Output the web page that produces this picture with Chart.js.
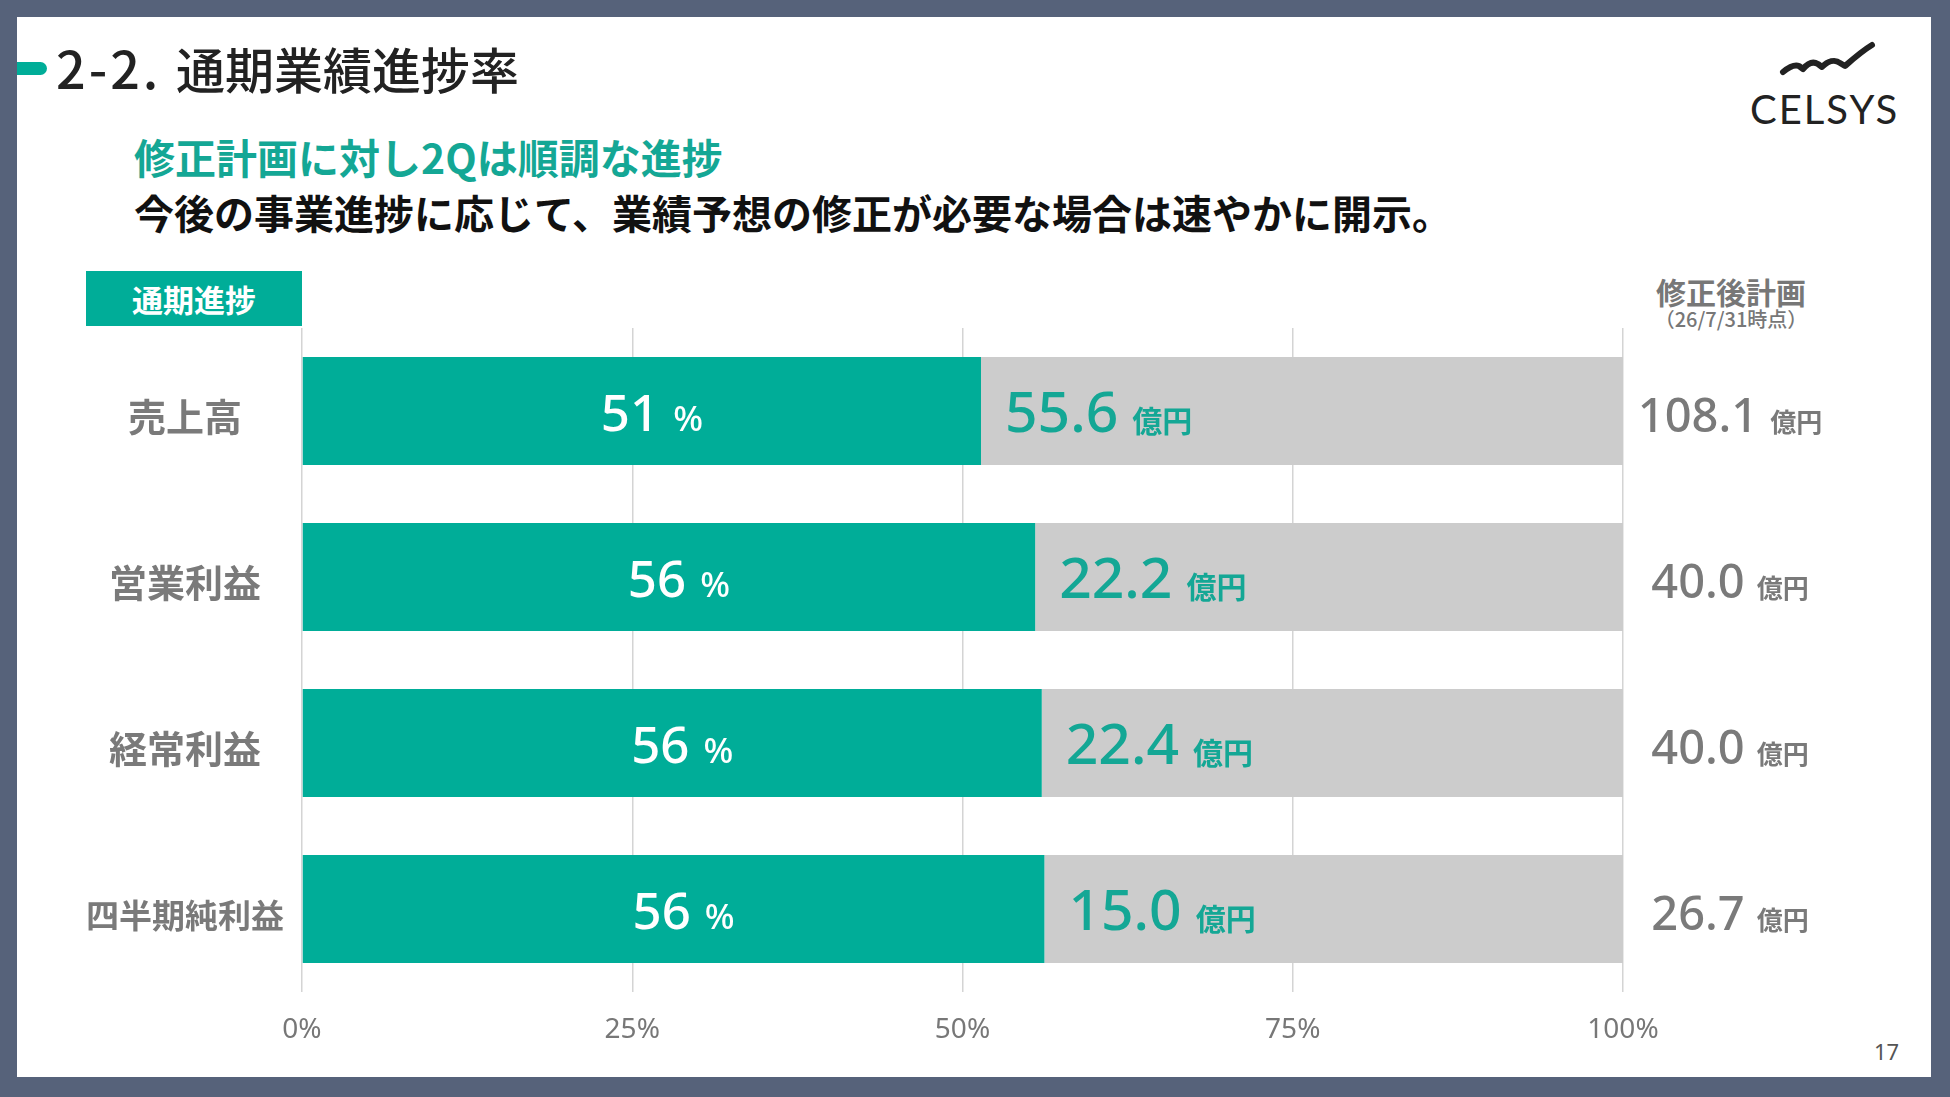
<!DOCTYPE html>
<html><head><meta charset="utf-8">
<script src="https://cdn.jsdelivr.net/npm/chart.js@4.4.1/dist/chart.umd.min.js"></script>
<style>
html,body{margin:0;padding:0;}
body{width:1950px;height:1097px;background:#56627a;position:relative;overflow:hidden;font-family:"Noto Sans CJK JP","Noto Sans",sans-serif;}
#panel{position:absolute;left:17px;top:17px;width:1914px;height:1060px;background:#fff;}
.abs{position:absolute;white-space:nowrap;}
#pill{left:17px;top:62px;width:30px;height:13px;background:#00ad98;border-radius:0 7px 7px 0;}
#title{left:56px;top:39px;font-size:49px;font-weight:500;color:#222;line-height:56px;}
#title .num{font-family:"Noto Sans CJK JP","Noto Sans",sans-serif;font-size:52px;letter-spacing:3px;font-weight:500;}
#sub1{left:134px;top:133px;font-size:41px;font-weight:700;color:#14a795;line-height:46px;}
#sub2{left:134px;top:189px;font-size:40px;font-weight:700;color:#111;line-height:46px;}
#tag{left:86px;top:271px;width:216px;height:55px;background:#00ad98;color:#fff;font-size:31px;font-weight:700;text-align:center;line-height:55px;}
#planh{left:1631px;width:200px;text-align:center;top:273px;font-size:30px;font-weight:700;color:#777;line-height:36px;}
#plans{left:1631px;width:200px;text-align:center;top:307px;font-size:20px;font-weight:500;color:#777;line-height:24px;}
#logo{left:1750px;top:84px;font-family:Lato,"Noto Sans",sans-serif;font-size:40px;letter-spacing:2px;color:#222;line-height:50px;}
#page{left:1874px;top:1036px;font-size:22px;color:#555;font-family:"Noto Sans",sans-serif;}
#chartbox{position:absolute;left:0;top:0;width:1950px;height:1097px;}
</style></head>
<body>
<div id="panel"></div>
<div class="abs" id="pill"></div>
<div class="abs" id="title"><span class="num">2-2. </span>通期業績進捗率</div>
<div class="abs" id="sub1">修正計画に対し2Qは順調な進捗</div>
<div class="abs" id="sub2">今後の事業進捗に応じて、業績予想の修正が必要な場合は速やかに開示。</div>
<div class="abs" id="tag">通期進捗</div>
<div class="abs" id="planh">修正後計画</div>
<div class="abs" id="plans">（26/7/31時点）</div>
<svg class="abs" style="left:0;top:0" width="1950" height="200"><path d="M1783,72 C1789,67 1794,64 1799,66 L1803,69 C1808,63 1813,61 1818,64 L1822,67 C1828,61 1835,59 1840,63 L1845,66 C1853,59 1862,51 1872,45" fill="none" stroke="#222" stroke-width="6" stroke-linecap="round" stroke-linejoin="round"/></svg>
<div class="abs" id="logo">CELSYS</div>
<div class="abs" id="page">17</div>
<div id="chartbox"><canvas id="c" width="1950" height="1097"></canvas></div>
<script>
const categories = ['売上高', '営業利益', '経常利益', '四半期純利益'];
const progressPct = [51.4, 55.5, 56.0, 56.2];
const progressLabels = ['51', '56', '56', '56'];
const actualOku = [55.6, 22.2, 22.4, 15.0];
const planOku = [108.1, 40.0, 40.0, 26.7];
const xTickValues = [0, 25, 50, 75, 100];
const remainderPct = progressPct.map(v => 100 - v);

const TEAL = '#00ad98';
const TEAL_TEXT = '#14a795';
const GRAY_TEXT = '#7a7a7a';
const NUMFONT = '"Noto Sans","Noto Sans CJK JP",sans-serif';
const JPFONT = '"Noto Sans CJK JP","Noto Sans",sans-serif';

function drawPieces(ctx, pieces, x, y, align) {
  let total = 0;
  pieces.forEach(p => { ctx.font = p.font; p.w = ctx.measureText(p.text).width; total += p.w + (p.gap || 0); });
  let sx = align === 'center' ? x - total / 2 : x;
  ctx.textAlign = 'left';
  ctx.textBaseline = 'alphabetic';
  pieces.forEach(p => { ctx.font = p.font; ctx.fillStyle = p.color; ctx.fillText(p.text, sx, y); sx += p.w + (p.gap || 0); });
}

const labelPlugin = {
  id: 'barLabels',
  afterDatasetsDraw(chart) {
    const ctx = chart.ctx;
    const xs = chart.scales.x;
    const meta = chart.getDatasetMeta(0);
    ctx.save();
    meta.data.forEach((bar, i) => {
      const y = bar.y;
      ctx.fillStyle = GRAY_TEXT;
      ctx.textAlign = 'center';
      ctx.textBaseline = 'middle';
      const cs = categories[i].length > 4 ? 33 : 38;
      ctx.font = `700 ${cs}px ${JPFONT}`;
      ctx.fillText(categories[i], xs.left - 117, y + 6);
      drawPieces(ctx, [
        {text: progressLabels[i], font: `500 51px ${NUMFONT}`, color: '#fff', gap: 14},
        {text: '%', font: `500 35px ${NUMFONT}`, color: '#fff'}
      ], (bar.base + bar.x) / 2 + 10, y + 20, 'center');
      drawPieces(ctx, [
        {text: actualOku[i].toFixed(1), font: `500 57px ${NUMFONT}`, color: TEAL_TEXT, gap: 14},
        {text: '億円', font: `700 30px ${JPFONT}`, color: TEAL_TEXT}
      ], bar.x + 24, y + 21, 'left');
      drawPieces(ctx, [
        {text: planOku[i].toFixed(1), font: `500 47px ${NUMFONT}`, color: GRAY_TEXT, gap: 12},
        {text: '億円', font: `700 26px ${JPFONT}`, color: GRAY_TEXT}
      ], xs.right + 107, y + 21, 'center');
    });
    ctx.restore();
  }
};

new Chart(document.getElementById('c'), {
  type: 'bar',
  data: {
    labels: categories,
    datasets: [
      {data: progressPct, backgroundColor: TEAL, borderWidth: 0},
      {data: remainderPct, backgroundColor: '#cccccc', borderWidth: 0}
    ]
  },
  options: {
    indexAxis: 'y',
    responsive: false,
    animation: false,
    devicePixelRatio: 1,
    categoryPercentage: 1,
    barPercentage: 0.65,
    layout: {padding: {left: 302, right: 327, top: 328, bottom: 45}},
    plugins: {legend: {display: false}, tooltip: {enabled: false}},
    scales: {
      x: {
        stacked: true, min: 0, max: 100,
        afterBuildTicks: s => { s.ticks = xTickValues.map(v => ({value: v})); },
        afterFit: s => { s.height = 60; },
        grid: {color: '#d4d4d4', lineWidth: 1.5, drawTicks: false},
        border: {display: false},
        ticks: {padding: 21, color: '#777', font: {family: NUMFONT, size: 28}, callback: v => v + '%'}
      },
      y: {stacked: true, display: false}
    }
  },
  plugins: [labelPlugin]
});
</script>
</body></html>
